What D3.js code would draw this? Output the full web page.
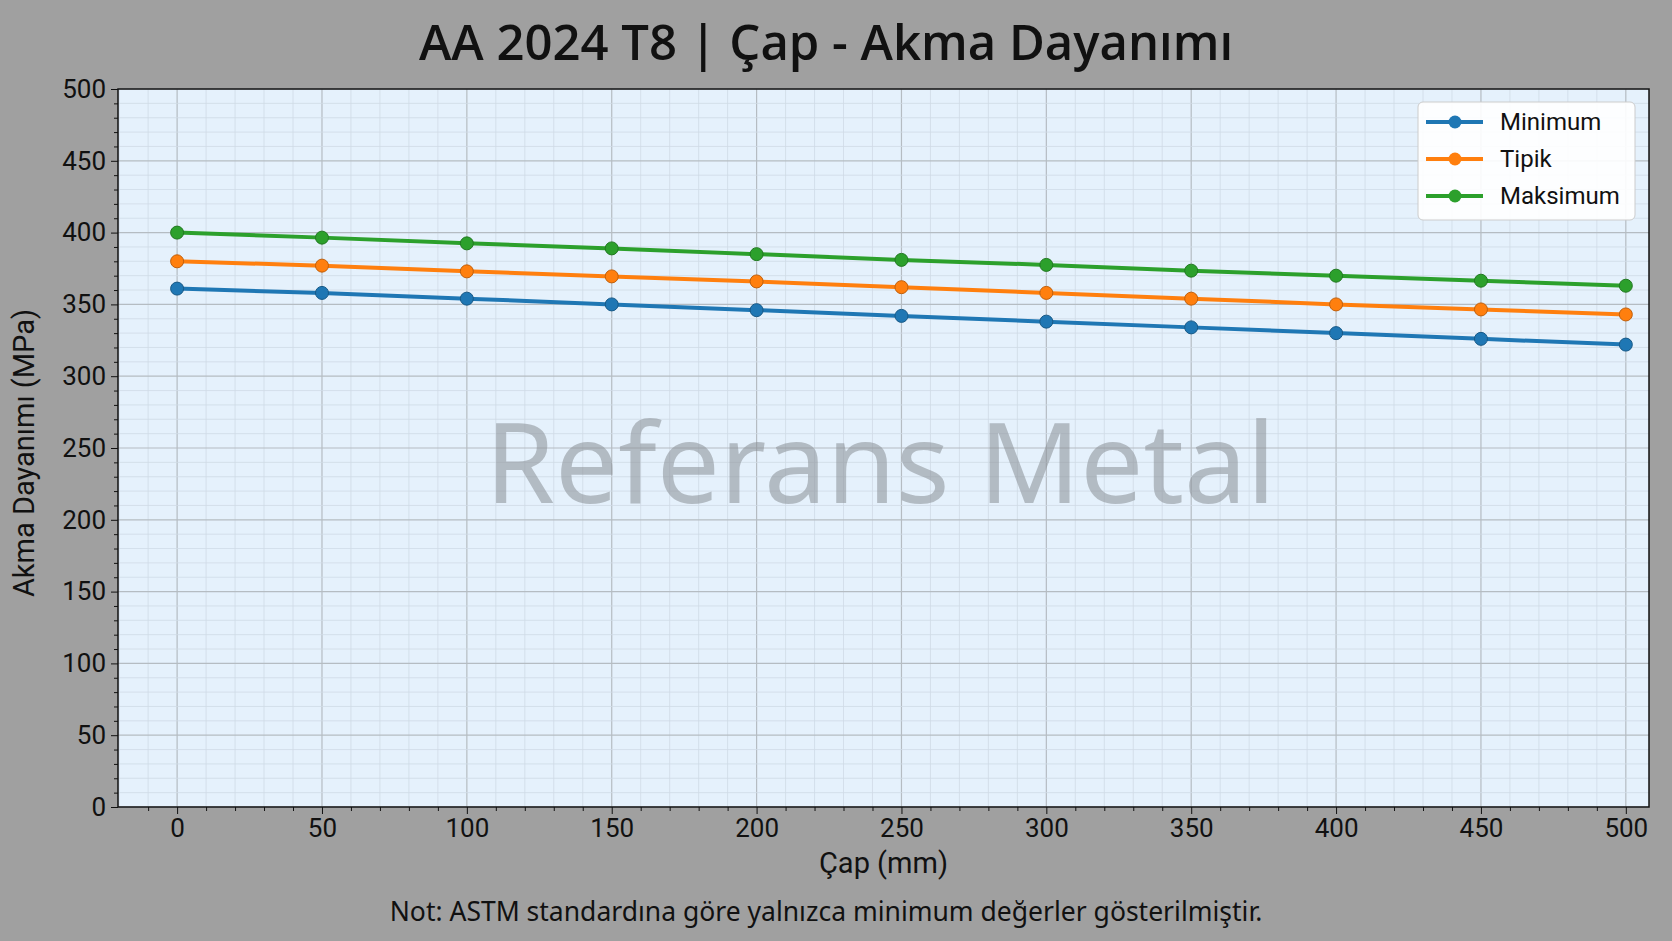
<!DOCTYPE html><html><head><meta charset="utf-8"><script src="https://cdn.jsdelivr.net/npm/d3@7"></script>
<style>body{margin:0;background:#a0a0a0}svg{display:block;font-family:"Noto Sans","DejaVu Sans",sans-serif}</style></head><body>
<script>
const diameters=[0,50,100,150,200,250,300,350,400,450,500];
const minimum=[361,358,354,350,346,342,338,334,330,326,322];
const tipik=[380,377,373,369.5,366,362,358,354,350,346.5,343];
const maksimum=[400,396.5,392.5,389,385,381,377.5,373.5,370,366.5,363];
const seriesNames=["Minimum","Tipik","Maksimum"];
const colors=["#1f77b4","#ff7f0e","#2ca02c"];
const W=1672,H=941,L=118,R=1649,T=89,B=807;
const svg=d3.select("body").append("svg").attr("width",W).attr("height",H);
svg.append("rect").attr("width",W).attr("height",H).attr("fill","#a0a0a0");
const x=d3.scaleLinear().domain([-20.4,508]).range([L,R]);
const y=d3.scaleLinear().domain([0,500]).range([B,T]);
svg.append("rect").attr("x",L).attr("y",T).attr("width",R-L).attr("height",B-T).attr("fill","#e5f1fc");
const g=svg.append("g");
d3.range(-20,510,10).forEach(v=>g.append("line").attr("x1",x(v)).attr("x2",x(v)).attr("y1",T).attr("y2",B).attr("stroke",v%50===0?"#b5bcc2":"#cfdbe6").attr("stroke-width",v%50===0?1.2:0.8));
d3.range(0,501,10).forEach(v=>g.append("line").attr("y1",y(v)).attr("y2",y(v)).attr("x1",L).attr("x2",R).attr("stroke",v%50===0?"#b5bcc2":"#cfdbe6").attr("stroke-width",v%50===0?1.2:0.8));
svg.append("text").attr("x",(L+R)/2-3).attr("y",(T+B)/2+55).attr("text-anchor","middle").attr("font-size",112).attr("fill","#8a9096").attr("opacity",0.55).text("Referans Metal");
const data=[minimum,tipik,maksimum];
const line=d3.line().x((d,i)=>x(diameters[i])).y(d=>y(d));
data.forEach((s,k)=>{
 svg.append("path").datum(s).attr("d",line).attr("fill","none").attr("stroke",colors[k]).attr("stroke-width",4);
 svg.selectAll(null).data(s).enter().append("circle").attr("cx",(d,i)=>x(diameters[i])).attr("cy",d=>y(d)).attr("r",6.5).attr("fill",colors[k]).attr("stroke",d3.color(colors[k]).darker(0.8)).attr("stroke-width",1);
});
svg.append("rect").attr("x",L).attr("y",T).attr("width",R-L).attr("height",B-T).attr("fill","none").attr("stroke","#111").attr("stroke-width",1.5);
svg.append("g").attr("transform",`translate(0,${B})`).call(d3.axisBottom(x).tickValues(diameters).tickSize(7).tickPadding(5));
svg.append("g").attr("transform",`translate(0,${B})`).call(d3.axisBottom(x).tickValues(d3.range(-10,510,10).filter(v=>v%50)).tickSize(4).tickFormat(""));
svg.append("g").attr("transform",`translate(${L},0)`).call(d3.axisLeft(y).tickValues(d3.range(0,501,50)).tickSize(7).tickPadding(5));
svg.append("g").attr("transform",`translate(${L},0)`).call(d3.axisLeft(y).tickValues(d3.range(0,501,10).filter(v=>v%50)).tickSize(4).tickFormat(""));
svg.selectAll(".domain").remove();
svg.selectAll(".tick text").attr("font-size",26).attr("fill","#111").attr("font-family","Roboto,'Noto Sans',sans-serif");
svg.selectAll(".tick line").attr("stroke","#111");
svg.append("text").attr("x",W/2-10).attr("y",60).attr("text-anchor","middle").attr("font-size",49).attr("font-weight",600).attr("fill","#111").attr("font-family","'Open Sans','Noto Sans',sans-serif").text("AA 2024 T8 | Çap - Akma Dayanımı");
svg.append("text").attr("x",(L+R)/2).attr("y",873).attr("text-anchor","middle").attr("font-size",29).attr("fill","#111").attr("font-family","Roboto,sans-serif").text("Çap (mm)");
svg.append("text").attr("transform",`translate(34,${(T+B)/2+5}) rotate(-90)`).attr("text-anchor","middle").attr("font-size",29).attr("fill","#111").attr("font-family","Roboto,sans-serif").text("Akma Dayanımı (MPa)");
svg.append("text").attr("x",W/2-10).attr("y",921).attr("text-anchor","middle").attr("font-size",26.5).attr("fill","#111").text("Not: ASTM standardına göre yalnızca minimum değerler gösterilmiştir.");
const lg=svg.append("g").attr("transform","translate(1418,102)");
lg.append("rect").attr("width",217).attr("height",118).attr("rx",5).attr("fill","#fff").attr("fill-opacity",0.9).attr("stroke","#ccc");
seriesNames.forEach((n,k)=>{const yy=20+k*37;
 lg.append("line").attr("x1",8).attr("x2",65).attr("y1",yy).attr("y2",yy).attr("stroke",colors[k]).attr("stroke-width",4);
 lg.append("circle").attr("cx",37).attr("cy",yy).attr("r",6.5).attr("fill",colors[k]);
 lg.append("text").attr("x",82).attr("y",yy+8).attr("font-size",24).attr("fill","#111").attr("font-family","Roboto,sans-serif").text(n);});
</script></body></html>
